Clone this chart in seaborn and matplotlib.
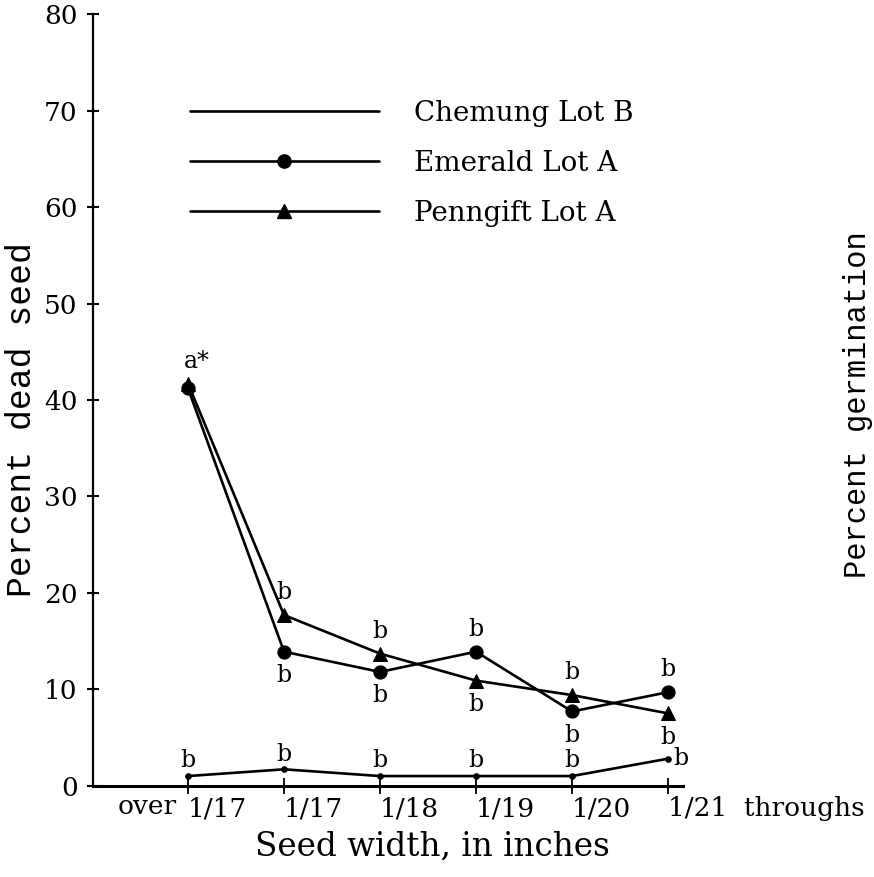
import matplotlib
matplotlib.use("Agg")
import numpy as np
import pandas as pd
import seaborn as sns
import matplotlib.pyplot as plt
from matplotlib.lines import Line2D

# ---- data ----
categories = ["over 1/17", "1/17", "1/18", "1/19", "1/20", "1/21 throughs"]
tick_labels = ["1/17", "1/17", "1/18", "1/19", "1/20", "1/21  throughs"]
chemung = [1.0, 1.7, 1.0, 1.0, 1.0, 2.8]
emerald = [41.2, 13.9, 11.8, 13.9, 7.7, 9.7]
penngift = [41.7, 17.7, 13.7, 10.9, 9.4, 7.5]
chemung_letters = ["b", "b", "b", "b", "b", "b"]
chemung_where = ["low", "low", "low", "low", "low", "right"]
emerald_letters = ["", "b", "b", "b", "b", "b"]
emerald_where = ["above", "below", "below", "above", "below", "above"]
penngift_letters = ["a*", "b", "b", "b", "b", "b"]
penngift_where = ["above", "above", "above", "below", "above", "below"]
series_names = ["Chemung Lot B", "Emerald Lot A", "Penngift Lot A"]

sns.set_theme(style="white")
plt.rcParams['font.family'] = ['DejaVu Serif']
plt.rcParams['text.color'] = 'black'
plt.rcParams['axes.labelcolor'] = 'black'

fig = plt.figure(figsize=(8.74, 8.77), dpi=100)
ax = fig.add_axes([93/874, 1 - 785.7/877, (683 - 93)/874, (785.7 - 14.4)/877])

xpos = np.arange(len(categories))
df = pd.DataFrame({
    "pos": np.tile(xpos, 3),
    "value": chemung + emerald + penngift,
    "lot": np.repeat(series_names, len(categories)),
})

styles = {
    "Chemung Lot B": dict(marker="o", markersize=4),
    "Emerald Lot A": dict(marker="o", markersize=9.5),
    "Penngift Lot A": dict(marker="^", markersize=9.5),
}
for name in series_names:
    sub = df[df["lot"] == name]
    sns.lineplot(data=sub, x="pos", y="value", ax=ax, color="black",
                 linewidth=1.9, sort=False, legend=False,
                 markeredgecolor="black", markerfacecolor="black",
                 **styles[name])

# letters
offs = {"above": (0, 16), "below": (0, -17), "right": (9, 0), "low": (0, 11)}
def put_letters(vals, letters, where, fs=17):
    for i, (v, l, w) in enumerate(zip(vals, letters, where)):
        if not l:
            continue
        dx, dy = offs[w]
        if l == "a*":
            dx = 6
        ax.annotate(l, xy=(xpos[i], v), xytext=(dx, dy), textcoords="offset points",
                    ha="center", va="center", fontsize=fs, color="black")
put_letters(chemung, chemung_letters, chemung_where)
put_letters(emerald, emerald_letters, emerald_where)
put_letters(penngift, penngift_letters, penngift_where)

# axes
ax.set_xlim(-0.99, 5.156)
ax.set_ylim(0, 80)
ax.set_yticks(np.arange(0, 81, 10))
ax.set_xticks(xpos)
ax.set_xticklabels(tick_labels, ha="left")

ax.tick_params(axis="y", direction="inout", length=8, width=1.5, pad=7,
               labelsize=19, colors="black", left=True)
ax.tick_params(axis="x", direction="inout", length=11, width=1.3, pad=2,
               labelsize=19, colors="black", bottom=True)
ax.annotate("over", xy=(0, 0), xycoords=("data", "axes fraction"),
            xytext=(-8, -6), textcoords="offset points", ha="right", va="top",
            fontsize=19, color="black")

for s in ["top", "right"]:
    ax.spines[s].set_visible(False)
ax.spines["left"].set_linewidth(1.6)
ax.spines["bottom"].set_linewidth(2.2)
ax.spines["left"].set_color("black")
ax.spines["bottom"].set_color("black")
ax.grid(False)
ax.set_xlabel("")
ax.set_ylabel("")

# legend
handles = [
    Line2D([], [], color="black", linewidth=1.9),
    Line2D([], [], color="black", linewidth=1.9, marker="o", markersize=9.5),
    Line2D([], [], color="black", linewidth=1.9, marker="^", markersize=9.5),
]
leg = ax.legend(handles, series_names, loc="upper left",
                bbox_to_anchor=(190/874, 1 - 100/877), bbox_transform=fig.transFigure,
                frameon=False, fontsize=20, handlelength=6.8, handletextpad=1.25,
                labelspacing=0.82, borderpad=0, borderaxespad=0, numpoints=1)
for t in leg.get_texts():
    t.set_color("black")

fig.text(22/874, 1 - 420/877, "Percent dead seed", rotation=90, ha="center", va="center",
         fontsize=25, family="Liberation Mono", color="black")
fig.text(858/874, 1 - 405/877, "Percent germination", rotation=90, ha="center", va="center",
         fontsize=22, family="Liberation Mono", color="black")
fig.text(432/874, 1 - 847/877, "Seed width, in inches", ha="center", va="center",
         fontsize=23.5, color="black")

fig.savefig("out.png", dpi=100)
